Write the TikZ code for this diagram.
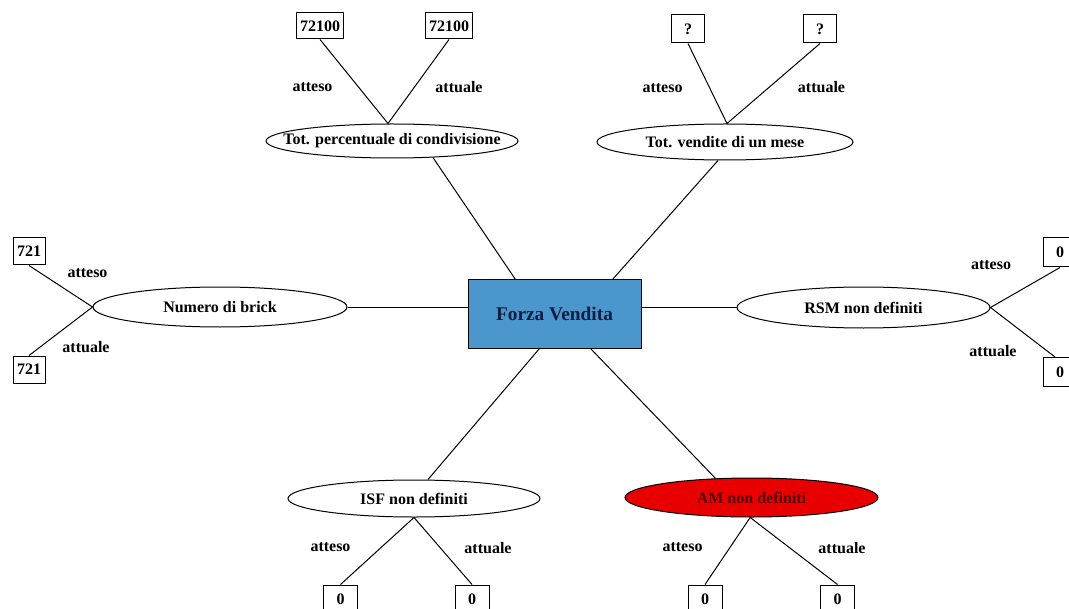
\documentclass[tikz,border=0pt]{standalone}
\usepackage{fontspec}
\setmainfont{Liberation Serif}
\usetikzlibrary{shapes.geometric}

\definecolor{fvblue}{RGB}{74,150,205}
\definecolor{fvtext}{RGB}{15,30,65}
\definecolor{amred}{RGB}{232,0,0}
\definecolor{amtext}{RGB}{90,0,0}

\begin{document}
\begin{tikzpicture}[x=0.75pt, y=-0.75pt, line width=0.75pt,
  every node/.style={font=\bfseries\fontsize{12}{14}\selectfont},
  hub/.style={draw, fill=fvblue, minimum width=129.75pt, minimum height=51pt,
    inner sep=0pt, text=fvtext, font=\bfseries\fontsize{14.5}{17}\selectfont},
  metric/.style={draw, ellipse, inner sep=0pt, fill=white},
  leaf/.style={draw, rectangle, inner sep=0pt, fill=white},
  tag/.style={inner sep=0pt}
]
\useasboundingbox (0,0) rectangle (1069,609);

% central box
\node[hub] (fv) at (554.5,314) {Forza Vendita};

% indicators around the centre
\node[metric, minimum width=189pt, minimum height=25.5pt,
  label=center:{Tot. percentuale di condivisione}] (tl) at (392,141) {};
\node[metric, minimum width=192pt, minimum height=27pt,
  label=center:{Tot. vendite di un mese}] (tr) at (725,142) {};
\node[metric, minimum width=190.5pt, minimum height=30pt,
  label=center:{Numero di brick}] (nb) at (220,307) {};
\node[metric, minimum width=189.75pt, minimum height=30.75pt,
  label=center:{RSM non definiti}] (rsm) at (863.5,307.5) {};
\node[metric, minimum width=189pt, minimum height=27.75pt,
  label=center:{ISF non definiti}] (isf) at (414,498.5) {};
\node[metric, fill=amred, minimum width=189.75pt, minimum height=29.25pt,
  label={[text=amtext]center:AM non definiti}] (am) at (751.5,497.5) {};

% value boxes
\node[leaf, minimum width=35.25pt, minimum height=19.5pt] (tla) at (320,26) {72100};
\node[leaf, minimum width=35.25pt, minimum height=19.5pt] (tlb) at (449,26) {72100};
\node[leaf, minimum width=24.75pt, minimum height=21pt] (tra) at (688,29) {?};
\node[leaf, minimum width=24.75pt, minimum height=21pt] (trb) at (820,29) {?};
\node[leaf, minimum width=24pt, minimum height=20.25pt] (nba) at (29,251.5) {721};
\node[leaf, minimum width=24pt, minimum height=20.25pt] (nbb) at (29,369.5) {721};
\node[leaf, minimum width=25.5pt, minimum height=21.75pt] (rsma) at (1060,252.5) {0};
\node[leaf, minimum width=25.5pt, minimum height=21.75pt] (rsmb) at (1060,372) {0};
\node[leaf, minimum width=25.5pt, minimum height=21pt] (isfa) at (340.5,599) {0};
\node[leaf, minimum width=25.5pt, minimum height=21pt] (isfb) at (472,599) {0};
\node[leaf, minimum width=25.5pt, minimum height=21pt] (ama) at (705,599) {0};
\node[leaf, minimum width=25.5pt, minimum height=21pt] (amb) at (837.5,599) {0};

% connectors from the centre
\draw ([xshift=36pt]fv.north west) -- (tl.-22);
\draw ([xshift=-21.75pt]fv.north east) -- ([xshift=-5.25pt]tr.south);
\draw (nb.east) -- (nb.east -| fv.west);
\draw (rsm.west -| fv.east) -- (rsm.west);
\draw ([xshift=54pt]fv.south west) -- ([xshift=10.5pt]isf.north);
\draw ([xshift=-38.25pt]fv.south east) -- (am.152);

% connectors to the values
\draw (tla.south) -- ([xshift=-3pt]tl.north) -- (tlb.south);
\draw (tra.south) -- ([xshift=1.5pt]tr.north) -- (trb.south);
\draw (nba.south) -- (nb.west) -- (nbb.north);
\draw (rsma.south) -- (rsm.east) -- ([xshift=-3.75pt]rsmb.north);
\draw (isfa.north) -- (isf.south) -- (isfb.north);
\draw (ama.north) -- ([xshift=-1pt]am.south) -- (amb.north);

% branch labels
\node[tag] (tlat) at (312.5,87) {atteso};
\node[tag] (tlac) at (459,87) {attuale};
\node[tag] (trat) at (662.5,88) {atteso};
\node[tag] (trac) at (821.5,87) {attuale};
\node[tag] (nbat) at (87.5,273) {atteso};
\node[tag] (nbac) at (86,347) {attuale};
\node[tag] (rsmat) at (991,265) {atteso};
\node[tag] (rsmac) at (993,351) {attuale};
\node[tag] (isfat) at (330.5,547) {atteso};
\node[tag] (isfac) at (488,548) {attuale};
\node[tag] (amat) at (682.5,547) {atteso};
\node[tag] (amac) at (842,548) {attuale};
\end{tikzpicture}
\end{document}
